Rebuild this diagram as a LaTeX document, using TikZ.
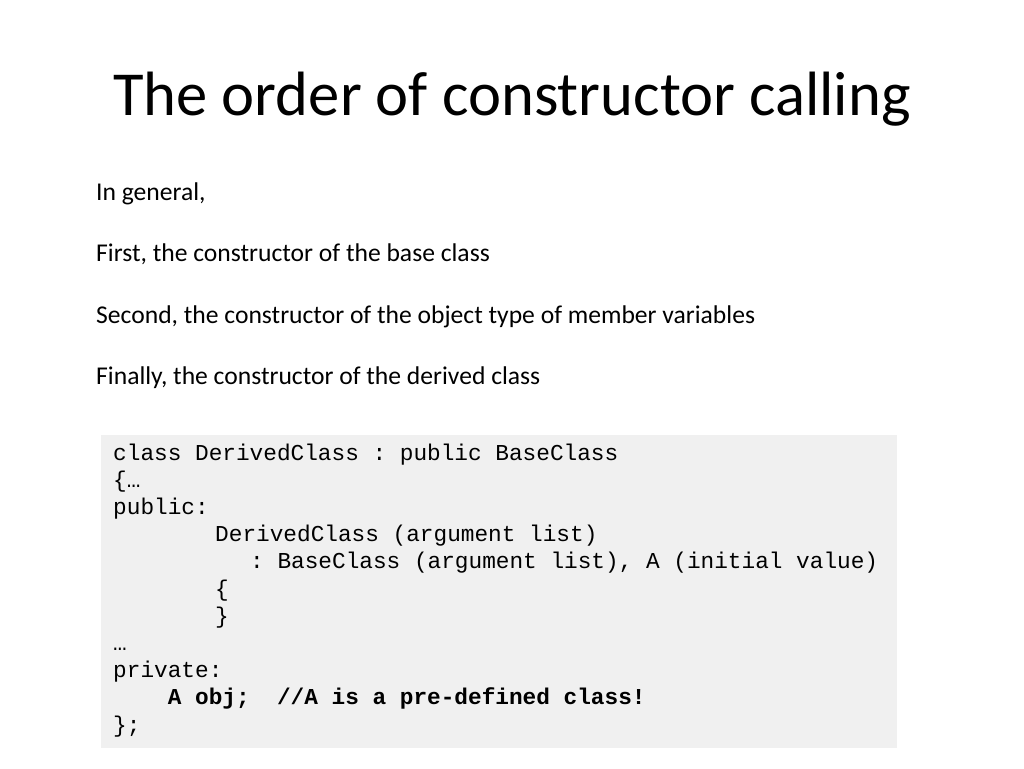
\documentclass[tikz,border=0pt]{standalone}
\usepackage{fontspec}
\setmainfont{Carlito}
\newfontfamily\codefont{Liberation Mono}
\frenchspacing
\begin{document}
\begin{tikzpicture}[x=1pt,y=-1pt,
  titletext/.style={inner sep=0pt, anchor=base, font=\fontsize{62.6}{70}\selectfont},
  bodytext/.style={inner sep=0pt, anchor=base west, font=\fontsize{25.6}{30}\selectfont},
  codetext/.style={inner sep=0pt, anchor=base west, font=\codefont\frenchspacing\fontsize{22.75}{27.2}\selectfont},
  codebold/.style={codetext, font=\codefont\frenchspacing\bfseries\fontsize{22.75}{27.2}\selectfont}]
\useasboundingbox (0,0) rectangle (1024,768);
\fill[white] (0,0) rectangle (1024,768);
\node[titletext] (title) at (512,115) {The order of constructor calling};
\node[bodytext] (b1) at (96,200) {In general,};
\node[bodytext] (b2) at (96,261.5) {First, the constructor of the base class};
\node[bodytext] (b3) at (96,323) {Second, the constructor of the object type of member variables};
\node[bodytext] (b4) at (96,384.5) {Finally, the constructor of the derived class};
\fill[fill={rgb,255:red,240;green,240;blue,240}] (101,435) rectangle (897,748);
\node[codetext] (c1) at (113,460) {class DerivedClass : public BaseClass};
\node[codetext] (c2) at (113,487.2) {\{…};
\node[codetext] (c3) at (113,514.4) {public:};
\node[codetext] (c4) at (215,541.6) {DerivedClass (argument list)};
\node[codetext] (c5) at (250,568.8) {: BaseClass (argument list), A (initial value)};
\node[codetext] (c6) at (215,596) {\{};
\node[codetext] (c7) at (215,623.2) {\}};
\node[codetext] (c8) at (113,650.4) {…};
\node[codetext] (c9) at (113,677.6) {private:};
\node[codebold] (c10) at (167.6,704.8) {A obj;\ \ //A is a pre-defined class!};
\node[codetext] (c11) at (113,732) {\};};
\end{tikzpicture}
\end{document}
